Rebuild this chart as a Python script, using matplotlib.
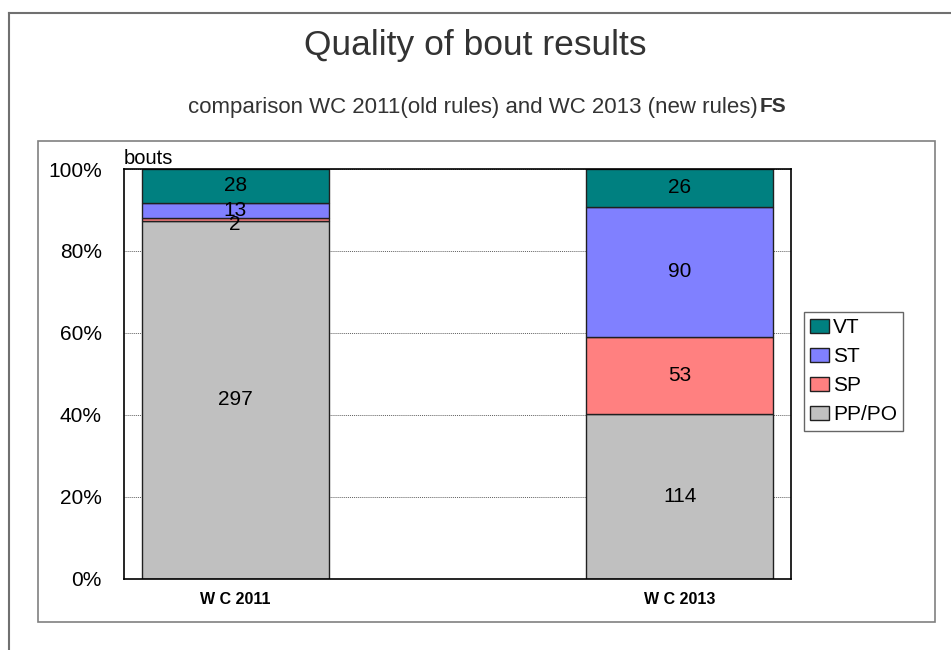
import matplotlib
matplotlib.use('Agg')
import matplotlib.pyplot as plt
from matplotlib.patches import Rectangle
from matplotlib.lines import Line2D
from matplotlib.ticker import PercentFormatter
import numpy as np

plt.rcParams['font.family'] = ['Liberation Sans', 'DejaVu Sans']

# data #
categories = ['W C 2011', 'W C 2013']
series = ['PP/PO', 'SP', 'ST', 'VT']
pp_po = [297, 114]
sp = [2, 53]
st = [13, 90]
vt = [28, 26]
colors = ['#C0C0C0', '#FF8080', '#8080FF', '#008080']

counts = np.array([pp_po, sp, st, vt], dtype=float)
shares = counts / counts.sum(axis=0) * 100

fig = plt.figure(figsize=(9.51, 6.5), dpi=100)

# outer frame and chart box #
fig.add_artist(Line2D([9 / 951, 1.0], [1 - 12.5 / 650] * 2, color='#707070', lw=1.5))
fig.add_artist(Line2D([9 / 951] * 2, [0, 1 - 12.5 / 650], color='#707070', lw=1.5))
fig.add_artist(Rectangle((38 / 951, 1 - 622 / 650), (935 - 38) / 951, (622 - 141) / 650,
                         fill=False, edgecolor='#808080', lw=1.2))

ax = fig.add_axes([124 / 951, 1 - 579 / 650, (791 - 124) / 951, (579 - 169) / 650])

x = np.arange(len(categories))
bottom = np.zeros(len(categories))
for i, name in enumerate(series):
    ax.bar(x, shares[i], 0.42, bottom=bottom, color=colors[i], edgecolor='#202020',
           linewidth=1.0, label=name, zorder=2)
    for j in range(len(categories)):
        yc = bottom[j] + shares[i][j] / 2
        if name == 'SP' and j == 0:
            yc -= 1.2
        ax.text(x[j], yc, str(int(counts[i][j])), ha='center', va='center',
                fontsize=15, color='black', zorder=3)
    bottom += shares[i]

ax.set_xlim(-0.25, 1.25)
ax.set_ylim(0, 100)
ax.set_yticks(np.arange(0, 101, 20))
ax.yaxis.set_major_formatter(PercentFormatter(decimals=0))
ax.set_xticks(x)
ax.set_xticklabels(categories, fontweight='bold', fontsize=11.5)
ax.tick_params(axis='y', length=0, labelsize=15, pad=16)
ax.tick_params(axis='x', length=0, pad=9)
for s in ax.spines.values():
    s.set_linewidth(1.2)
    s.set_color('black')
ax.grid(axis='y', linestyle=(0, (1, 1)), color='#606060', linewidth=0.7, zorder=0)
ax.set_axisbelow(True)

ax.text(0.0, 1.002, 'bouts', transform=ax.transAxes, fontsize=14.5, va='bottom')

# legend #
h, l = ax.get_legend_handles_labels()
leg = fig.legend(h[::-1], l[::-1], loc='upper left', bbox_to_anchor=(804 / 951, 1 - 312 / 650),
                 fontsize=15, frameon=True, fancybox=False, edgecolor='#404040',
                 handlelength=0.9, handleheight=0.6, handletextpad=0.2,
                 labelspacing=0.48, borderpad=0.3, borderaxespad=0)
leg.get_frame().set_linewidth(1.0)

# titles #
fig.text(475 / 951, 1 - 46 / 650, 'Quality of bout results', ha='center', va='center',
         fontsize=25.5, color='#333333')
fig.text(758 / 951, 1 - 107 / 650, 'comparison WC 2011(old rules) and WC 2013 (new rules)',
         ha='right', va='center', fontsize=16, color='#333333')
fig.text(760 / 951, 1 - 107 / 650, 'FS', ha='left', va='center', fontsize=15,
         fontweight='bold', color='#333333')

fig.savefig('out.png', dpi=100)
